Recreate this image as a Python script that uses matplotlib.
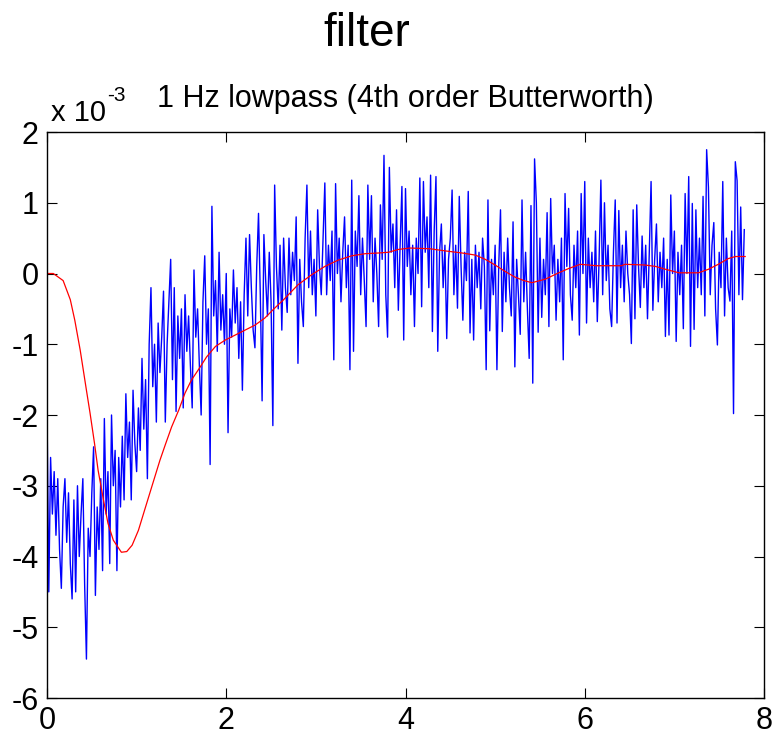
import numpy as np
import matplotlib
matplotlib.use("Agg")
import matplotlib.pyplot as plt

plt.rcParams['font.family'] = ['Liberation Sans', 'DejaVu Sans']
plt.rcParams['axes.unicode_minus'] = False

# ---- data (values in units of 1e-3) ----
dt = 0.02
raw_0 = [-1.9, -4.5, -2.6, -3.4, -2.8, -3.7, -2.9, -3.9, -4.45, -3.3,
         -2.9, -3.8, -3.1, -4.1, -4.6, -3.2, -4.5, -3.0, -4.0, -3.4,
         -2.9, -4.4, -5.45, -3.6, -4.0, -3.1, -2.45, -4.55, -3.3, -3.9,
         -2.9, -4.2, -2.05, -3.4, -2.8, -4.1, -2.0, -3.0, -2.5, -4.2,
         -2.6, -3.3, -2.3, -3.2, -1.7, -2.6, -2.1, -3.2, -1.65, -2.4]
raw_1 = [-2.8, -1.9, -2.5, -1.2, -2.2, -1.5, -2.9, -1.0, -0.2, -1.6,
         -1.0, -2.1, -0.7, -1.4, -0.9, -0.25, -2.1, -1.0, -0.4, 0.2,
         -1.5, -0.2, -1.95, -0.6, -1.2, -0.5, -1.9, -0.3, -1.1, -0.6,
         -1.3, -1.9, 0.05, -0.9, -0.5, -1.3, -2.0, -0.4, 0.25, -1.0,
         -0.5, -2.7, 0.95, -0.6, -0.1, -1.1, 0.3, -0.8, -0.3, -1.0]
raw_2 = [0.0, -2.25, -0.5, -0.9, 0.05, -0.7, -0.2, -1.2, -0.4, -1.65,
         -0.3, 0.5, -0.6, 0.55, -0.2, -0.8, -1.05, 0.1, 0.85, -0.3,
         -1.8, 0.55, -0.1, -0.6, 0.3, -0.4, -2.15, 1.25, 0.1, -0.5,
         0.4, -0.8, 0.5, -0.2, -0.55, 0.5, -0.3, 0.3, -0.1, 0.8,
         -1.27, 0.2, -0.4, -0.75, 0.5, 1.25, -0.2, 0.6, -0.3, 0.2]
raw_3 = [-0.6, 0.9, 0.1, -0.3, 0.5, 1.28, -0.3, 0.4, -0.1, 0.6,
         -1.22, 1.27, 0.0, 0.5, -0.4, 0.3, 0.8, -0.2, 0.4, -1.36,
         1.32, -1.1, 0.6, 0.1, 1.1, -0.3, 0.5, -0.1, -0.75, 1.25,
         0.2, 1.1, -0.4, 0.5, 0.0, -0.75, 0.97, 0.2, 1.67, -0.3,
         -0.9, 1.5, 0.3, 0.7, -0.2, 0.9, -0.52, 0.4, 1.23, -0.94]
raw_4 = [1.2, 0.1, 0.6, -0.3, 0.4, -0.75, 0.5, 0.0, 1.35, -0.47,
         1.3, 0.3, 0.8, -0.2, 1.39, -0.82, 0.6, 1.37, -1.1, 0.3,
         0.7, -0.2, 0.4, -0.92, 0.2, 0.5, 1.18, -0.3, 0.4, -0.49,
         1.09, 0.1, -0.66, 0.3, -0.1, 1.16, -0.84, 0.2, -0.94, 0.4,
         -0.2, 0.3, -0.5, 0.5, 0.1, -1.36, 1.04, -0.81, 0.2, -0.3]
raw_5 = [0.4, -1.36, 0.1, 0.9, -0.82, 0.3, -0.4, 0.5, -0.2, -0.6,
         0.73, -1.32, 0.2, -0.3, -0.86, 1.04, -0.4, 0.3, -0.5, -1.2,
         0.96, -1.55, 1.62, 1.0, -0.83, 0.5, -0.62, 0.2, -0.3, 0.86,
         -0.75, 1.06, 0.0, 0.4, -0.66, 0.2, -0.4, 0.5, -1.22, 1.13,
         0.1, 0.92, -0.3, -0.66, 0.4, -0.2, 0.6, -0.87, 1.13, 0.0]
raw_6 = [1.3, -0.7, 0.5, -0.2, 0.3, -0.4, 0.6, -0.68, 0.2, 1.32,
         -0.3, 1.0, -0.1, 0.4, -0.5, -0.75, 0.3, 1.04, -0.7, 0.89,
         -0.2, 0.4, -0.4, 0.6, 0.0, -0.3, -0.99, 0.9, -0.64, 0.97,
         0.1, -0.48, 0.53, -0.2, 0.4, -0.64, 0.3, 1.3, -0.52, 0.2,
         0.7, -0.4, 0.3, -0.2, 0.5, -0.89, 0.2, -0.87, 1.11, 0.0]
raw_7 = [0.6, -0.96, 0.3, -0.3, 0.4, -0.78, 1.13, 0.0, 1.37, -1.03,
         0.99, -0.79, 0.9, -0.2, 0.5, -0.3, 1.09, -0.6, 1.75, 1.22,
         -0.3, 0.4, 0.72, -0.5, -1.01, 0.3, -0.2, 1.3, -0.6, 0.5,
         -0.2, -0.39, 0.6, -1.98, 1.58, 1.31, -0.3, 0.94, -0.37, 0.62]

filt_t = [0, 0.07, 0.18, 0.26, 0.31, 0.37, 0.44, 0.48, 0.53, 0.57, 0.63, 0.68,
          0.74, 0.83, 0.89, 0.95, 1.02, 1.09, 1.17, 1.26, 1.32, 1.39, 1.47, 1.54,
          1.61, 1.71, 1.78, 1.88, 1.99, 2.10, 2.21, 2.32, 2.43, 2.54, 2.64, 2.80,
          2.95, 3.10, 3.25, 3.40, 3.55, 3.70, 3.81, 3.92, 4.05, 4.27, 4.44, 4.63,
          4.78, 4.89, 5.00, 5.11, 5.22, 5.32, 5.41, 5.56, 5.71, 5.82, 5.95, 6.13,
          6.41, 6.45, 6.67, 6.79, 6.90, 7.05, 7.27, 7.38, 7.49, 7.60, 7.68, 7.79]
filt_v = [0, 0, -0.10, -0.37, -0.66, -1.08, -1.65, -1.97, -2.40, -2.78, -3.20, -3.53,
          -3.77, -3.94, -3.93, -3.84, -3.63, -3.34, -3.01, -2.64, -2.42, -2.17, -1.93, -1.69,
          -1.51, -1.32, -1.18, -1.03, -0.94, -0.87, -0.80, -0.73, -0.63, -0.49, -0.37, -0.16,
          -0.02, 0.10, 0.19, 0.25, 0.28, 0.29, 0.30, 0.34, 0.36, 0.35, 0.32, 0.29,
          0.26, 0.20, 0.12, 0.03, -0.05, -0.10, -0.13, -0.08, 0.01, 0.07, 0.13, 0.11,
          0.11, 0.13, 0.12, 0.10, 0.06, 0.01, 0.01, 0.06, 0.13, 0.21, 0.24, 0.24]

x_ticks = [0, 2, 4, 6, 8]
y_ticks = [-6, -5, -4, -3, -2, -1, 0, 1, 2]

raw_v = np.concatenate([raw_0, raw_1, raw_2, raw_3, raw_4, raw_5, raw_6, raw_7])
raw_t = np.arange(len(raw_v)) * dt

# ---- figure ----
W, H = 773, 736
fig = plt.figure(figsize=(W / 100, H / 100), dpi=100)
ax = fig.add_axes([47 / W, 1 - 698 / H, (764 - 47) / W, (698 - 132) / H])

ax.plot(raw_t, raw_v, color=(0, 0, 1), lw=1.0)
ax.plot(filt_t, filt_v, color=(1, 0, 0), lw=0.9)

ax.set_xlim(0, 8)
ax.set_ylim(-6, 2)
ax.set_xticks(x_ticks)
ax.set_yticks(y_ticks)
ax.tick_params(direction='in', length=7, width=0.8, top=True, right=True,
               labelsize=22, pad=6, colors='black')
for s in ax.spines.values():
    s.set_linewidth(1.0)

ax.set_title('1 Hz lowpass (4th order Butterworth)', fontsize=22, pad=18)
fig.text(51 / W, 1 - 121 / H, 'x 10', fontsize=21, ha='left', va='baseline')
fig.text(107 / W, 1 - 101 / H, '-3', fontsize=15, ha='left', va='baseline')
fig.text(367 / W, 1 - 46 / H, 'filter', fontsize=33, ha='center', va='baseline')

fig.savefig('out.png', dpi=100, facecolor='white')
